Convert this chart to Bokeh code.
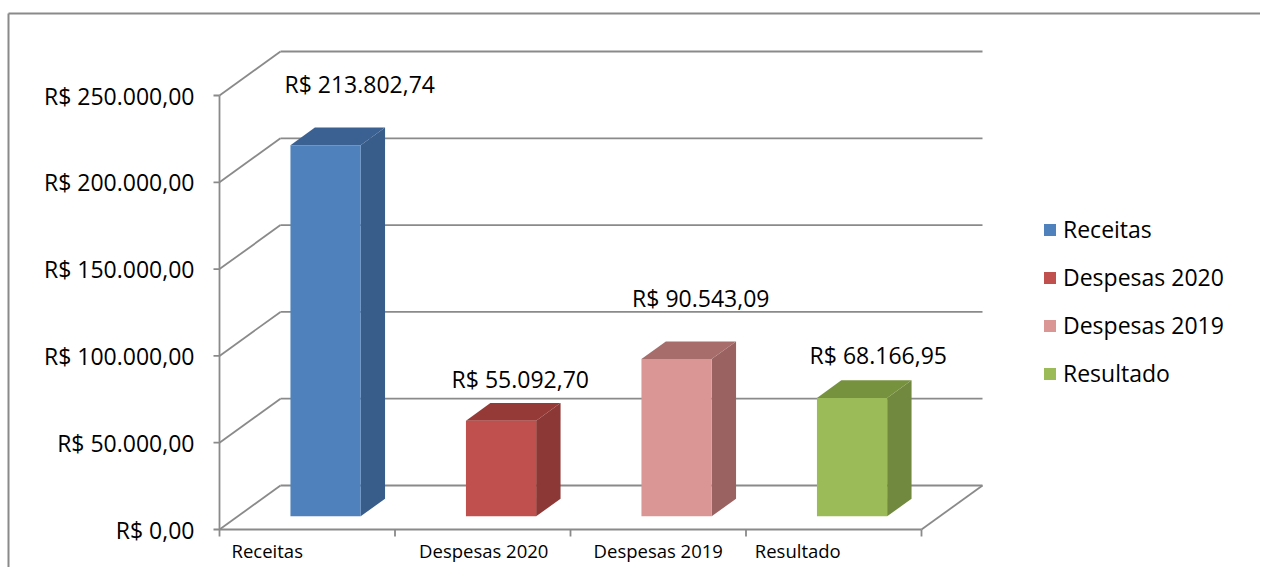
from bokeh.plotting import figure
from bokeh.models import Range1d, Legend, LegendItem, ColumnDataSource
from bokeh.embed import file_html
from bokeh.resources import INLINE
from bokeh.core.properties import value

# ---------------- data ----------------
categories = ["Receitas", "Despesas 2020", "Despesas 2019", "Resultado"]
values = [213802.74, 55092.70, 90543.09, 68166.95]
value_labels = ["R$ 213.802,74", "R$ 55.092,70", "R$ 90.543,09", "R$ 68.166,95"]
y_ticks = [0, 50000, 100000, 150000, 200000, 250000]
y_tick_labels = ["R$ 0,00", "R$ 50.000,00", "R$ 100.000,00",
                 "R$ 150.000,00", "R$ 200.000,00", "R$ 250.000,00"]

# ---------------- styles ----------------
front_colors = ["#4F81BD", "#C0504D", "#D99694", "#9BBB59"]
side_colors = ["#385D8A", "#8C3836", "#9A6361", "#71893F"]
top_colors = ["#3B6193", "#953A37", "#A66D6B", "#77923F"]
GRID = "#8A8A8A"
FONT = "Open Sans"

# ---------------- layout (pixels) ----------------
W, H = 1260, 567
PX_CAT = 175.5                 # pixels per category on the front plane
VPP = 250000 / 434.0           # value units per pixel
ORIGIN_X, ORIGIN_Y = 219, 529  # front-plane origin in figure pixels (from top-left)
DX = 61 / PX_CAT               # depth shift (full depth) in category units
DY = 44 * VPP                  # depth shift (full depth) in value units
B0, B1 = 0.3, 0.7              # bar extent inside a category / depth
# per-label nudges, pixels (dx right, lift above bar top)
label_dx = [22, 7, 12, 14]
label_lift = [44, 24, 44, 25]
cat_label_dx = [-40, 1, 0, -36]
CAT_LABEL_DROP = 21

x_start = -ORIGIN_X / PX_CAT
x_end = (W - ORIGIN_X) / PX_CAT
y_end = ORIGIN_Y * VPP
y_start = -(H - ORIGIN_Y) * VPP


def proj(x, v, d):
    return x + d * DX, v + d * DY


p = figure(width=W, height=H, output_backend="svg", toolbar_location=None,
           x_range=Range1d(x_start, x_end), y_range=Range1d(y_start, y_end),
           x_axis_location=None, y_axis_location=None, min_border=0,
           outline_line_color=None, background_fill_color="white",
           border_fill_color="white")
p.xgrid.visible = False
p.ygrid.visible = False

n = len(categories)

# outer chart border (left and top edges visible)
bl = x_start + 8 / PX_CAT
bt = y_end - 13 * VPP
p.segment(x0=[bl, bl], y0=[y_start, bt], x1=[bl, x_end], y1=[bt, bt],
          line_color=GRID, line_width=2)

# walls: back gridlines and left-wall diagonals
bx0, by0, bx1, by1 = [], [], [], []
for t in y_ticks:
    a = proj(0, t, 1)
    b = proj(n, t, 1)
    bx0.append(a[0]); by0.append(a[1]); bx1.append(b[0]); by1.append(b[1])
    c = proj(0, t, 0)
    bx0.append(c[0]); by0.append(c[1]); bx1.append(a[0]); by1.append(a[1])
# floor front edge and right edge
f0 = proj(0, 0, 0); f1 = proj(n, 0, 0); f2 = proj(n, 0, 1)
bx0 += [f0[0], f1[0]]; by0 += [f0[1], f1[1]]
bx1 += [f1[0], f2[0]]; by1 += [f1[1], f2[1]]
# front vertical axis
bx0.append(0); by0.append(0); bx1.append(0); by1.append(y_ticks[-1])
# y ticks
for t in y_ticks:
    bx0.append(-6 / PX_CAT); by0.append(t); bx1.append(0); by1.append(t)
# x ticks (category separators)
for i in range(n + 1):
    bx0.append(i); by0.append(0); bx1.append(i); by1.append(-7 * VPP)
p.segment(x0=bx0, y0=by0, x1=bx1, y1=by1, line_color=GRID, line_width=1.8)

# ---------------- bars ----------------
front = ColumnDataSource(dict(
    left=[i + B0 + B0 * DX for i in range(n)],
    right=[i + B1 + B0 * DX for i in range(n)],
    bottom=[B0 * DY] * n,
    top=[v + B0 * DY for v in values],
    color=front_colors,
    name=categories,
))
side_xs, side_ys, top_xs, top_ys = [], [], [], []
for i, v in enumerate(values):
    pts = [proj(i + B1, 0, B0), proj(i + B1, 0, B1), proj(i + B1, v, B1), proj(i + B1, v, B0)]
    side_xs.append([q[0] for q in pts]); side_ys.append([q[1] for q in pts])
    pts = [proj(i + B0, v, B0), proj(i + B1, v, B0), proj(i + B1, v, B1), proj(i + B0, v, B1)]
    top_xs.append([q[0] for q in pts]); top_ys.append([q[1] for q in pts])

p.patches(xs=side_xs, ys=side_ys, fill_color=side_colors, line_color=None)
p.patches(xs=top_xs, ys=top_ys, fill_color=top_colors, line_color=None)
bars = p.quad(left="left", right="right", bottom="bottom", top="top",
              fill_color="color", line_color=None, source=front)

# ---------------- texts ----------------
p.text(x=[-25 / PX_CAT] * len(y_ticks), y=y_ticks, text=y_tick_labels,
       text_align="right", text_baseline="middle", text_color="#000000",
       text_font=value(FONT), text_font_size="23px")

p.text(x=[i + 0.5 + cat_label_dx[i] / PX_CAT for i in range(n)],
       y=[-CAT_LABEL_DROP * VPP] * n, text=categories,
       text_align="center", text_baseline="middle", text_color="#000000",
       text_font=value(FONT), text_font_size="18.5px")

lx, ly = [], []
for i, v in enumerate(values):
    cx, cy = proj(i + 0.5, v, B1)
    lx.append(cx - (B1 - 0.5) * DX + label_dx[i] / PX_CAT)
    ly.append(cy + label_lift[i] * VPP)
p.text(x=lx, y=ly, text=value_labels,
       text_align="center", text_baseline="middle", text_color="#000000",
       text_font=value(FONT), text_font_size="23px")

# ---------------- legend ----------------
legend = Legend(items=[LegendItem(label=categories[i], renderers=[bars], index=i) for i in range(n)],
                location=(1042, 178), orientation="vertical",
                glyph_width=15, glyph_height=15, label_standoff=6,
                label_height=32, spacing=16, padding=0, margin=0,
                border_line_color=None, background_fill_alpha=0,
                label_text_font=FONT, label_text_font_size="23px",
                label_text_color="#000000", label_text_baseline="middle")
p.add_layout(legend, "center")

open("out.html", "w").write(file_html(p, INLINE))
